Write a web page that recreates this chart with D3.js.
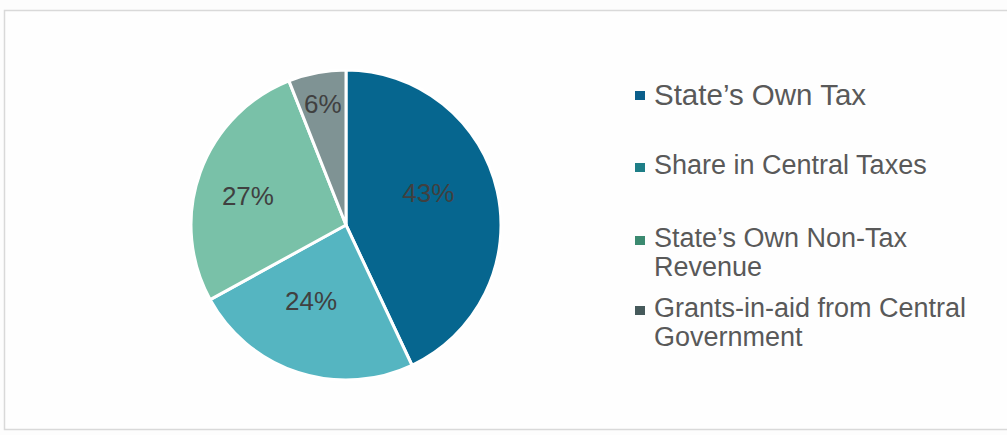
<!DOCTYPE html>
<html>
<head>
<meta charset="utf-8">
<script src="https://cdn.jsdelivr.net/npm/d3@7"></script>
<style>
  html, body { margin: 0; padding: 0; background: #fdfdfd; }
  svg { display: block; font-family: "Liberation Sans", Arial, sans-serif; }
</style>
</head>
<body>
<svg id="chart" width="1007" height="435"></svg>
<script>
// revenue shares (%)
const categories = ["State’s Own Tax", "Share in Central Taxes", "State’s Own Non-Tax Revenue", "Grants-in-aid from Central Government"]
const values = [43, 24, 27, 6]
const legendLines = [["State’s Own Tax"], ["Share in Central Taxes"], ["State’s Own Non-Tax", "Revenue"], ["Grants-in-aid from Central", "Government"]]
const sliceColors = ["#06668f", "#55b5c1", "#79c1a8", "#7f9394"]
const legendColors = ["#0b5f8b", "#1e7e87", "#3b8a70", "#465a5b"]

const svg = d3.select("#chart")
const width = +svg.attr("width")

// chart frame
svg.append("rect")
    .attr("x", 4.5).attr("y", 10.5)
    .attr("width", width + 10).attr("height", 419)
    .attr("fill", "#fefefe")
    .attr("stroke", "#d9d9d9")
    .attr("stroke-width", 1.5)

const cx = 346, cy = 225, r = 155
const g = svg.append("g").attr("transform", "translate(" + cx + "," + cy + ")")

const pie = d3.pie().sort(null).value(d => d)
const arcs = pie(values)
const arc = d3.arc().innerRadius(0).outerRadius(r)

g.selectAll("path.slice")
  .data(arcs)
  .enter().append("path")
    .attr("class", "slice")
    .attr("d", arc)
    .attr("fill", (d, i) => sliceColors[i])
    .attr("stroke", "#ffffff")
    .attr("stroke-width", 3)
    .attr("stroke-linejoin", "round")

// "best fit" label placement: radius fraction and angle nudge (degrees) per slice
const labelFit = [[0.57, -8.7], [0.54, 6.7], [0.66, -3.3], [0.8, 0]]

g.selectAll("text.pct")
  .data(arcs)
  .enter().append("text")
    .attr("class", "pct")
    .attr("transform", (d, i) => {
      const lr = r * labelFit[i][0]
      const a = (d.startAngle + d.endAngle) / 2 + labelFit[i][1] * Math.PI / 180
      return "translate(" + (lr * Math.sin(a)) + "," + (-lr * Math.cos(a)) + ")"
    })
    .attr("text-anchor", "middle")
    .attr("dy", "0.36em")
    .attr("font-size", 26)
    .attr("fill", "#404040")
    .text(d => d.value + "%")

// legend
const legendY = d3.scaleOrdinal().domain(categories).range([105, 174, 247, 317])
const legend = svg.append("g").attr("class", "legend")
const items = legend.selectAll("g.item")
  .data(categories)
  .enter().append("g")
    .attr("class", "item")
    .attr("transform", d => "translate(0," + legendY(d) + ")")

items.append("rect")
    .attr("x", 635)
    .attr("y", (d, i) => i === 0 ? -14 : -11)
    .attr("width", 10)
    .attr("height", 9)
    .attr("fill", (d, i) => legendColors[i])

items.append("text")
    .attr("x", 654)
    .attr("font-size", (d, i) => i === 0 ? 29.5 : 27)
    .attr("fill", "#595959")
    .selectAll("tspan")
    .data((d, i) => legendLines[i])
    .enter().append("tspan")
      .attr("x", 654)
      .attr("dy", (d, j) => j === 0 ? 0 : 29)
      .text(d => d)
</script>
</body>
</html>
